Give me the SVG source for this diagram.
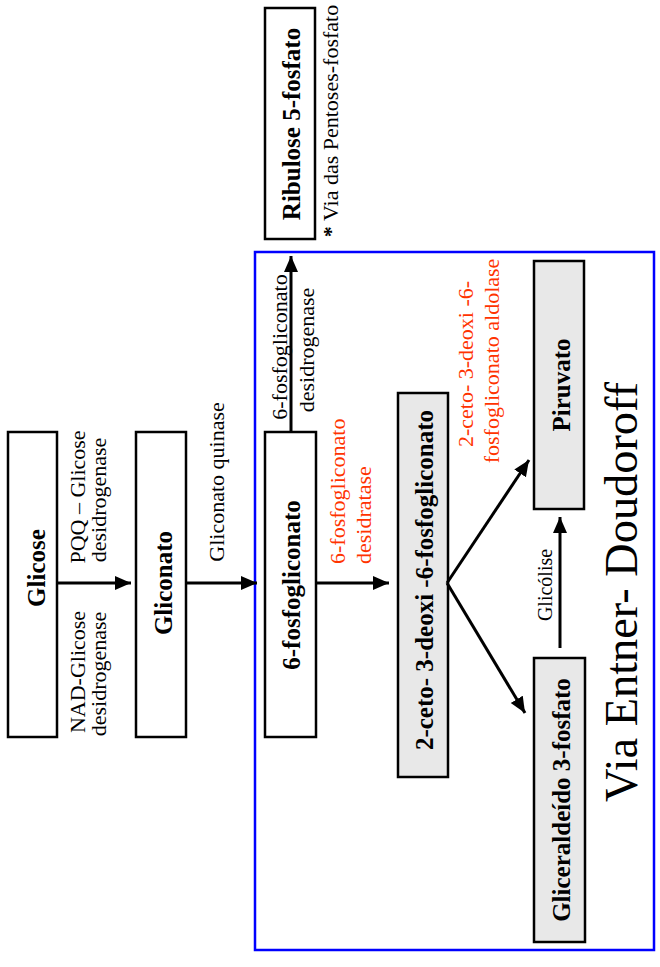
<svg xmlns="http://www.w3.org/2000/svg" width="660" height="967" viewBox="0 0 660 967">
<style>
.box{fill:#fff;stroke:#000;stroke-width:2.5}
.gbox{fill:#e8e8e8;stroke:#000;stroke-width:2.5}
.nl{font-family:"Liberation Serif","Times New Roman",serif;font-weight:bold;font-size:25px;fill:#000;text-anchor:middle}
.lb{font-family:"Liberation Serif","Times New Roman",serif;font-size:22px;fill:#000}
.red{fill:#ff3300}
.conn line{stroke:#000;stroke-width:3;marker-end:url(#ah)}
</style>
<defs>
<marker id="ah" markerUnits="userSpaceOnUse" markerWidth="18" markerHeight="16" refX="16" refY="7" orient="auto">
<path d="M0,0 L16,7 L0,14 z" fill="#000"/>
</marker>
</defs>
<rect x="255" y="252" width="399" height="698" fill="none" stroke="#0000ff" stroke-width="2.5"/>
<g id="glicose">
<rect class="box" x="8" y="432" width="49" height="305"/>
<text class="nl" transform="translate(45,568) rotate(-90)">Glicose</text>
</g>
<g id="gliconato">
<rect class="box" x="136" y="432" width="50" height="305"/>
<text class="nl" transform="translate(172,583) rotate(-90)">Gliconato</text>
</g>
<g id="fosfogliconato">
<rect class="box" x="265" y="432" width="51" height="305"/>
<text class="nl" transform="translate(300,585) rotate(-90)">6-fosfogliconato</text>
</g>
<g id="ribulose">
<rect class="box" x="265" y="8" width="50" height="231"/>
<text class="nl" transform="translate(300,124) rotate(-90)">Ribulose 5-fosfato</text>
</g>
<g id="kdpg">
<rect class="gbox" x="398" y="393" width="50" height="384"/>
<text class="nl" transform="translate(433,580) rotate(-90)">2-ceto- 3-deoxi -6-fosfogliconato</text>
</g>
<g id="piruvato">
<rect class="gbox" x="534" y="261" width="50" height="248"/>
<text class="nl" transform="translate(570,385) rotate(-90)">Piruvato</text>
</g>
<g id="gliceraldeido">
<rect class="gbox" x="534" y="658" width="51" height="284"/>
<text class="nl" transform="translate(570,800) rotate(-90)">Gliceraldeído 3-fosfato</text>
</g>
<g id="connectors" class="conn">
<line x1="57" y1="583" x2="131" y2="583"/>
<line x1="186" y1="583" x2="257" y2="583"/>
<line x1="316" y1="583" x2="389" y2="583"/>
<line x1="291" y1="432" x2="291" y2="256"/>
<line x1="447" y1="583" x2="529" y2="460"/>
<line x1="447" y1="583" x2="525" y2="713"/>
<line x1="560" y1="648" x2="560" y2="517"/>
</g>
<g id="labels">
<text class="lb" text-anchor="middle" transform="translate(85,672) rotate(-90)">NAD-Glicose</text>
<text class="lb" text-anchor="middle" transform="translate(106,674) rotate(-90)">desidrogenase</text>
<text class="lb" text-anchor="middle" transform="translate(85,497) rotate(-90)">PQQ – Glicose</text>
<text class="lb" text-anchor="middle" transform="translate(106,500) rotate(-90)">desidrogenase</text>
<text class="lb" text-anchor="middle" transform="translate(224,482) rotate(-90)">Gliconato quinase</text>
<text class="lb" text-anchor="middle" transform="translate(287,347) rotate(-90)">6-fosfogliconato</text>
<text class="lb" text-anchor="middle" transform="translate(314,350) rotate(-90)">desidrogenase</text>
<text class="lb red" text-anchor="start" transform="translate(345,564) rotate(-90)">6-fosfogliconato</text>
<text class="lb red" text-anchor="start" transform="translate(371,564) rotate(-90)">desidratase</text>
<text class="lb red" text-anchor="middle" transform="translate(473,364) rotate(-90)">2-ceto- 3-deoxi -6-</text>
<text class="lb red" text-anchor="middle" transform="translate(499,361) rotate(-90)">fosfogliconato aldolase</text>
<text class="lb" text-anchor="middle" style="font-size:20px" transform="translate(552,585) rotate(-90)">Glicólise</text>
<text class="lb" text-anchor="middle" transform="translate(338,121) rotate(-90)"><tspan font-weight="bold">*</tspan> Via das Pentoses-fosfato</text>
<text class="lb" text-anchor="middle" style="font-size:46px" textLength="420" lengthAdjust="spacingAndGlyphs" transform="translate(637,592) rotate(-90)">Via Entner- Doudoroff</text>
</g>
</svg>
